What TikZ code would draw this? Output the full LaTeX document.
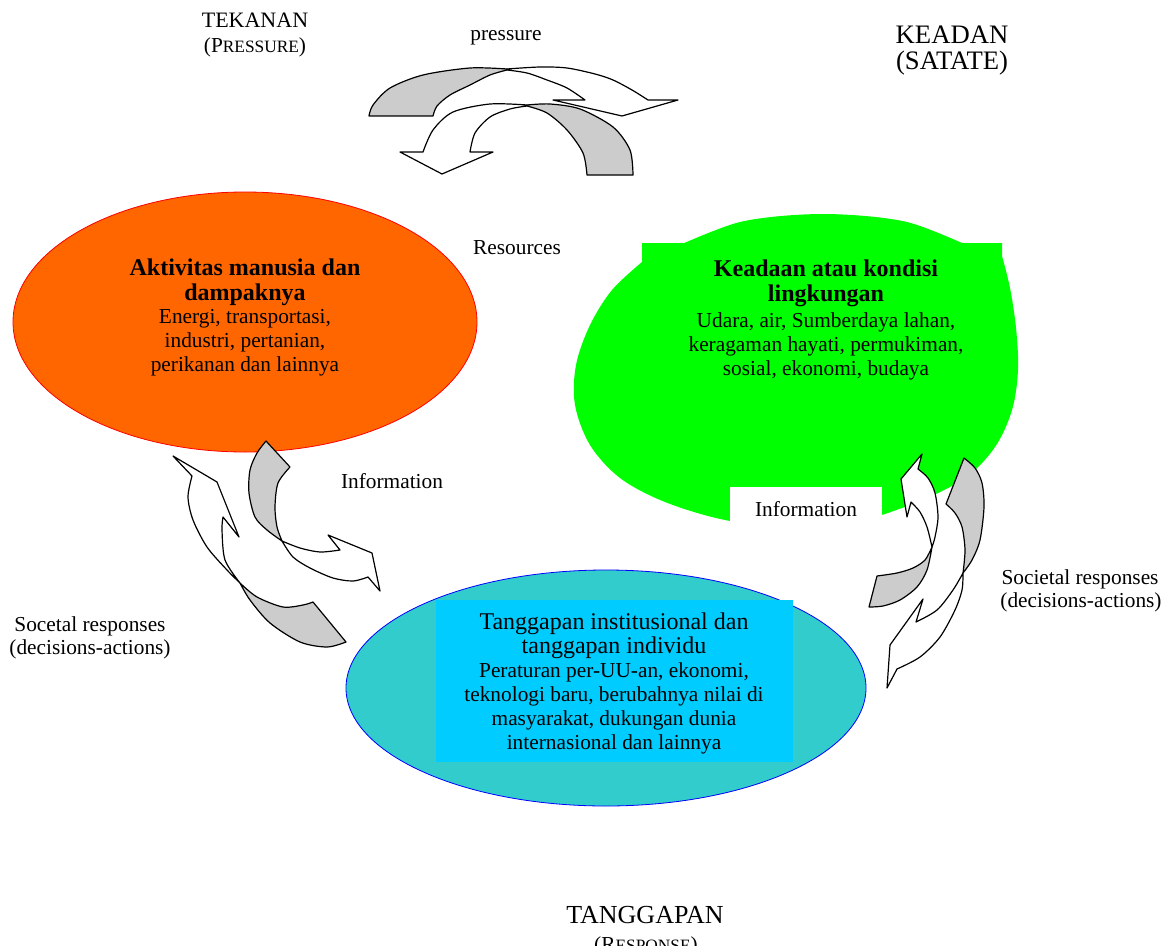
\documentclass[tikz,border=0pt]{standalone}
\usepackage{fontspec}
\setmainfont{Liberation Serif}
\usetikzlibrary{shapes.geometric}
\definecolor{orangefill}{HTML}{FF6600}
\definecolor{greenfill}{HTML}{00FF00}
\definecolor{tealfill}{HTML}{33CCCC}
\definecolor{skyfill}{HTML}{00CCFF}
\definecolor{arrowgray}{HTML}{CCCCCC}
\begin{document}
\begin{tikzpicture}[x=0.75pt,y=-0.75pt,
  txt/.style={anchor=base, inner sep=0pt, font=\fontsize{16}{18}\selectfont},
  boldtxt/.style={anchor=base, inner sep=0pt, font=\fontsize{18}{20}\selectfont\bfseries},
  bigtxt/.style={anchor=base, inner sep=0pt, font=\fontsize{18}{20}\selectfont},
  back/.style={fill=arrowgray, draw=black, line width=0.9pt, line join=round},
  front/.style={fill=white, draw=black, line width=0.9pt, line join=round},
]
\useasboundingbox (0,0) rectangle (1169,945);
\clip (0,0) rectangle (1169,945);

% orange ellipse
\node[ellipse, draw=red, fill=orangefill, line width=0.6pt, inner sep=0pt,
      minimum width=348pt, minimum height=195pt] (act) at (245,322) {};
% green shape (ellipse with its text box on top)
\path[fill=greenfill] (642,243) -- (1002,243) -- (1002,256)
  -- plot[smooth, tension=0.55] coordinates {(1002,256) (1010,288) (1016,328) (1018,370) (1012,410)
     (995,447) (965,478) (915,503) (855,522) (790,527) (725,520) (665,502) (620,478) (590,445)
     (575,405) (576,365) (590,325) (612,290) (642,262)} -- cycle;
\path[fill=greenfill] plot[smooth] coordinates {(664,252) (740,222) (823,214) (907,222) (982,252)} -- cycle;
% cyan ellipse
\node[ellipse, draw=blue, fill=tealfill, line width=0.6pt, inner sep=0pt,
      minimum width=390pt, minimum height=177pt] (resp) at (606,688) {};
\node[fill=skyfill, inner sep=0pt,
      minimum width=267.75pt, minimum height=121.5pt] (respbox) at (614.5,681) {};
\node[fill=white, inner sep=0pt, anchor=north west,
      minimum width=114pt, minimum height=36pt] (infobox) at (730,487) {};

% titles
\node[anchor=base, inner sep=0pt, font=\fontsize{16.5}{18}\selectfont] (tek) at (255,28) {TEKANAN};
\node[txt] (tek2) at (255,53) {(P{\fontsize{13}{13}\selectfont RESSURE})};
\node[anchor=base, inner sep=0pt, font=\fontsize{20}{22}\selectfont] (kea) at (952,44) {KEADAN};
\node[anchor=base, inner sep=0pt, font=\fontsize{20}{22}\selectfont] (kea2) at (952,70) {(SATATE)};
\node[anchor=base, inner sep=0pt, font=\fontsize{19.5}{22}\selectfont] (tang) at (645,923) {TANGGAPAN};
\node[txt] (tang2) at (646,951) {(R{\fontsize{13}{13}\selectfont ESPONSE})};

% connector labels
\node[txt] (lpress) at (506,41) {pressure};
\node[txt] (lres) at (517,254) {Resources};
\node[txt] (linfo1) at (392,488) {Information};
\node[txt] (linfo2) at (806,516) {Information};
\node[txt] (lsoc1) at (90,631) {Socetal responses};
\node[txt] (lsoc1b) at (90,654) {(decisions-actions)};
\node[txt] (lsoc2) at (1080,584) {Societal responses};
\node[txt] (lsoc2b) at (1081,607) {(decisions-actions)};

% orange text
\node[boldtxt] (a1) at (245,275) {Aktivitas manusia dan};
\node[boldtxt] (a2) at (245,300) {dampaknya};
\node[txt] (a3) at (245,323) {Energi, transportasi,};
\node[txt] (a4) at (245,347) {industri, pertanian,};
\node[txt] (a5) at (245,371) {perikanan dan lainnya};

% green text
\node[boldtxt] (k1) at (826,276) {Keadaan atau kondisi};
\node[boldtxt] (k2) at (826,301) {lingkungan};
\node[txt] (k3) at (826,327) {Udara, air, Sumberdaya lahan,};
\node[txt] (k4) at (826,351) {keragaman hayati, permukiman,};
\node[txt] (k5) at (826,375) {sosial, ekonomi, budaya};

% cyan text
\node[bigtxt] (t1) at (614,629) {Tanggapan institusional dan};
\node[bigtxt] (t2) at (614,653) {tanggapan individu};
\node[txt] (t3) at (614,677) {Peraturan per-UU-an, ekonomi,};
\node[txt] (t4) at (614,701) {teknologi baru, berubahnya nilai di};
\node[txt] (t5) at (614,725) {masyarakat, dukungan dunia};
\node[txt] (t6) at (614,749) {internasional dan lainnya};

% arrow A (top, pointing down-right)
\path[back] (369,116) -- plot[smooth] coordinates {(433,116) (437,106) (450,95) (470,85) (490,75) (507,70)}
  -- plot[smooth] coordinates {(507,69) (470,68) (423,75) (390,88) (373,105) (369,116)} -- cycle;
\path[front] plot[smooth] coordinates {(507,69) (540,67) (567,68) (595,74) (613,80) (632,90) (648,100)}
  -- (678,100) -- (622,116) -- (553,100) -- (585,100)
  -- plot[smooth] coordinates {(585,100) (567,88) (547,80) (527,73) (507,70)} -- cycle;
% arrow B (top, pointing down-left)
\path[back] (587,175) -- (633,175)
  -- plot[smooth] coordinates {(633,175) (630,150) (613,127) (580,109) (550,104) (527,105)}
  -- plot[smooth] coordinates {(527,106) (547,113) (567,130) (583,153) (587,175)} -- cycle;
\path[front] plot[smooth] coordinates {(527,105) (490,104) (453,112) (433,130) (423,152)}
  -- (400,152) -- (442,174) -- (493,152) -- (470,152)
  -- plot[smooth] coordinates {(470,152) (475,133) (490,117) (510,109) (527,106)} -- cycle;
% arrow C (left, from orange to cyan)
\path[back] (266,441) -- (290,467)
  -- plot[smooth] coordinates {(290,467) (278,483) (275,507) (277,527) (282,541)}
  -- plot[smooth] coordinates {(282,541) (267,530) (255,517) (249,493) (250,470) (257,453) (266,441)} -- cycle;
\path[front] plot[smooth] coordinates {(282,541) (300,548) (320,552) (340,550)}
  -- (328,535) -- (372,553) -- (380,591) -- (368,577)
  -- plot[smooth] coordinates {(368,577) (353,581) (333,578) (310,568) (293,557) (282,541)} -- cycle;
% arrow D (left, from cyan to orange)
\path[front] (192,476) -- (173,456) -- (217,482) -- (239,537) -- (223,517)
  -- plot[smooth] coordinates {(223,517) (222,530) (225,560) (240,583)}
  -- plot[smooth] coordinates {(240,583) (227,570) (207,547) (193,520) (188,497) (192,476)} -- cycle;
\path[back] plot[smooth] coordinates {(240,583) (257,597) (283,607) (303,605) (313,602)}
  -- (346,642)
  -- plot[smooth] coordinates {(346,642) (327,647) (300,642) (270,623) (250,600) (240,583)} -- cycle;
% arrow E (right, pointing up)
\path[front] (918,469) -- (922,454) -- (901,479) -- (907,517) -- (911,502)
  -- plot[smooth] coordinates {(911,502) (920,512) (927,527) (932,547)}
  -- plot[smooth] coordinates {(932,547) (935,537) (938,517) (935,493) (928,478) (918,469)} -- cycle;
\path[back] plot[smooth] coordinates {(932,547) (925,560) (913,568) (897,573) (877,576)}
  -- (869,607)
  -- plot[smooth] coordinates {(869,607) (883,606) (900,600) (917,587) (927,570) (932,547)} -- cycle;
% arrow F (right, pointing down)
\path[back] (946,504) -- (964,458)
  -- plot[smooth] coordinates {(964,458) (975,468) (982,483) (984,507) (980,540) (972,560) (963,573)}
  -- plot[smooth] coordinates {(963,573) (965,550) (962,527) (955,513) (946,504)} -- cycle;
\path[front] plot[smooth] coordinates {(963,573) (953,590) (937,610) (916,622)}
  -- (923,599) -- (890,645) -- (887,688) -- (897,669)
  -- plot[smooth] coordinates {(897,669) (920,657) (940,637) (955,610) (962,590) (963,573)} -- cycle;
\end{tikzpicture}
\end{document}
